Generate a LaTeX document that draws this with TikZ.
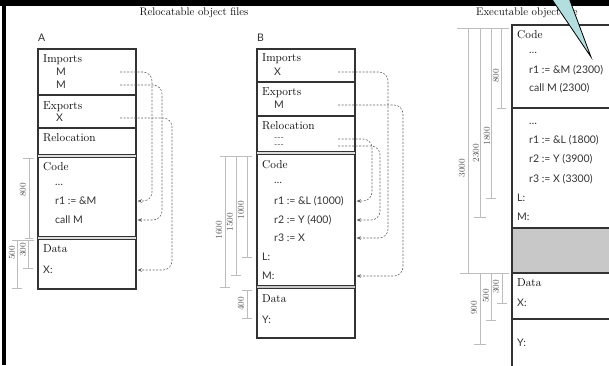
\documentclass[tikz,border=0pt]{standalone}
\usepackage{fontspec}
\newfontfamily\codefont{Lato}
\usetikzlibrary{arrows.meta,calc}
\definecolor{boxc}{HTML}{333333}
\definecolor{dimc}{HTML}{BDBDBD}
\definecolor{diml}{HTML}{555555}
\definecolor{connc}{HTML}{666666}
\definecolor{calloutc}{HTML}{B2DEDF}
\definecolor{grayfill}{HTML}{C8C8C8}
\tikzset{
  sect/.style={font=\fontsize{11.5}{13}\selectfont, anchor=west, inner sep=0pt, text height=7pt, text depth=0pt, text=black},
  code/.style={font=\codefont\fontsize{10.5}{12}\selectfont, anchor=west, inner sep=0pt, text height=7pt, text depth=0pt, text=black!80},
  relmark/.style={font=\codefont\fontsize{8.5}{9}\selectfont, anchor=west, inner sep=0pt, text height=3.5pt, text depth=0pt, text=black!70},
  title/.style={font=\fontsize{11}{13}\selectfont, inner sep=0pt, text=black},
  boxline/.style={draw=boxc, line width=1.2pt},
  thinbox/.style={draw=boxc, line width=0.9pt},
  dimline/.style={draw=dimc, line width=0.8pt},
  dimlabel/.style={font=\fontsize{9}{10}\selectfont, text=diml, rotate=90, inner sep=0pt},
  conn/.style={draw=connc, line width=0.6pt, dash pattern=on 2pt off 1.5pt, rounded corners=9pt, -{Stealth[length=4.5pt,width=3.6pt]}},
}
\begin{document}
\begin{tikzpicture}[x=1pt,y=-1pt]
\useasboundingbox (0,0) rectangle (609,365);
\fill[white] (0,0) rectangle (609,365);

% titles
\node[title] (t1) at (194,13) {Relocatable object files};
\node[title, anchor=west] (t2) at (476,13) {Executable object file};

% ---------------- Box A ----------------
\node[code, anchor=west] (labA) at (38,38) {A};
\draw[boxline] (38,49) rectangle (136,289);
\draw[boxline] (38,95) -- (136,95);
\draw[boxline] (38,128) -- (136,128);
\fill[grayfill!60] (38,154.5) rectangle (136,157.5);
\draw[thinbox] (38,154.5) -- (136,154.5) (38,157.5) -- (136,157.5);
\fill[grayfill!60] (38,236.5) rectangle (136,239.5);
\draw[thinbox] (38,236.5) -- (136,236.5) (38,239.5) -- (136,239.5);

\node[sect] (AImp) at (43,59) {Imports};
\node[code] (AimpM1) at (56,72) {M};
\node[code] (AimpM2) at (56,85) {M};
\node[sect] (AExp) at (43,106) {Exports};
\node[code] (AexpX) at (56,118) {X};
\node[sect] (ARel) at (43,138) {Relocation};
\node[sect] (ACode) at (43,167) {Code};
\node[code] (Adots) at (55,181.5) {\ldots};
\node[code] (Ar1) at (55,201) {r1 := \&M};
\node[code] (Acall) at (55,220) {call M};
\node[sect] (AData) at (43,249) {Data};
\node[code] (AdataX) at (43,270) {X:};

% dims A
\draw[dimline] (23,158) -- (34,158);
\draw[dimline] (29,158) -- (29,238) (25,238) -- (33,238);
\node[dimlabel] (dA800) at (23,190) {800};
\draw[dimline] (12,240) -- (34,240);
\draw[dimline] (28,240) -- (28,268) (23,268) -- (33,268);
\draw[dimline] (17,240) -- (17,288) (12,288) -- (22,288);
\node[dimlabel] (dA300) at (23,250) {300};
\node[dimlabel] (dA500) at (12,253) {500};

% connectors A
\coordinate (Aout) at (120,0);
\coordinate (Av1) at (152,0);
\coordinate (Av2) at (162,0);
\coordinate (Av3) at (172,0);
\coordinate (Ain) at (137.5,0);
\draw[conn] (AimpM1 -| Aout) -- (AimpM1 -| Av1) -- (Ar1 -| Av1) -- (Ar1 -| Ain);
\draw[conn] (AimpM2 -| Aout) -- (AimpM2 -| Av2) -- (Acall -| Av2) -- (Acall -| Ain);
\draw[conn] (AexpX -| Aout) -- (AexpX -| Av3) -- (AdataX -| Av3) -- (AdataX -| Ain);

% ---------------- Box B ----------------
\node[code, anchor=west] (labB) at (257,38) {B};
\draw[boxline] (257,49) rectangle (355,338);
\draw[boxline] (257,82) -- (355,82);
\draw[boxline] (257,116) -- (355,116);
\fill[grayfill!60] (257,151.5) rectangle (355,154.5);
\draw[thinbox] (257,151.5) -- (355,151.5) (257,154.5) -- (355,154.5);
\fill[grayfill] (257,285.5) rectangle (355,288.5);
\draw[thinbox] (257,285.5) -- (355,285.5) (257,288.5) -- (355,288.5);

\node[sect] (BImp) at (262,58) {Imports};
\node[code] (BimpX) at (274,72) {X};
\node[sect] (BExp) at (262,92) {Exports};
\node[code] (BexpM) at (274,105) {M};
\node[sect] (BRel) at (262,126) {Relocation};
\node[relmark] (Brel1) at (274,139) {-{}-{}-};
\node[relmark] (Brel2) at (274,146) {-{}-{}-};
\node[sect] (BCode) at (262,165) {Code};
\node[code] (Bdots) at (274,180) {\ldots};
\node[code] (Br1) at (274,201) {r1 := \&L (1000)};
\node[code] (Br2) at (274,220) {r2 := Y (400)};
\node[code] (Br3) at (274,238) {r3 := X};
\node[code] (BL) at (262,257) {L:};
\node[code] (BM) at (262,276) {M:};
\node[sect] (BData) at (262,299) {Data};
\node[code] (BY) at (262,320) {Y:};

% dims B
\draw[dimline] (220,156) -- (252,156);
\draw[dimline] (247,156) -- (247,257) (242,257) -- (252,257);
\draw[dimline] (236,156) -- (236,275) (231,275) -- (241,275);
\draw[dimline] (225,156) -- (225,287) (220,287) -- (230,287);
\node[dimlabel] (dB1000) at (241,210) {1000};
\node[dimlabel] (dB1500) at (230,222) {1500};
\node[dimlabel] (dB1600) at (219,230) {1600};
\draw[dimline] (242,290) -- (252,290) (247,290) -- (247,318) (242,318) -- (252,318);
\node[dimlabel] (dB400) at (241,304) {400};

% connectors B
\coordinate (Bout) at (338,0);
\coordinate (Bv1) at (372,0);
\coordinate (Bv2) at (380,0);
\coordinate (Bv3) at (388,0);
\coordinate (Bv4) at (403,0);
\coordinate (Bin) at (356.5,0);
\draw[conn] (Brel1 -| Bout) -- (Brel1 -| Bv1) -- (Br1 -| Bv1) -- (Br1 -| Bin);
\draw[conn] (Brel2 -| Bout) -- (Brel2 -| Bv2) -- (Br2 -| Bv2) -- (Br2 -| Bin);
\draw[conn] (BimpX -| Bout) -- (BimpX -| Bv3) -- (Br3 -| Bv3) -- (Br3 -| Bin);
\draw[conn] (BexpM -| Bout) -- (BexpM -| Bv4) -- (BM -| Bv4) -- (BM -| Bin);

% ---------------- Executable ----------------
\fill[grayfill] (512,228) rectangle (615,273);
\draw[boxline] (615,25) -- (512,25) -- (512,370);
\draw[boxline] (512,108) -- (615,108);
\draw[draw=boxc, line width=2pt] (512,228) -- (615,228);
\draw[draw=boxc, line width=2pt] (512,273) -- (615,273);
\draw[draw=boxc, line width=1.5pt] (512,319) -- (615,319);

\node[sect] (ECode) at (517,35) {Code};
\node[code] (Edots1) at (529,49.5) {\ldots};
\node[code] (Er1a) at (529,70) {r1 := \&M (2300)};
\node[code] (Ecall) at (529,88) {call M (2300)};
\node[code] (Edots2) at (529,121) {\ldots};
\node[code] (Er1b) at (529,140) {r1 := \&L (1800)};
\node[code] (Er2) at (529,159) {r2 := Y (3900)};
\node[code] (Er3) at (529,179) {r3 := X (3300)};
\node[code] (EL) at (517,198) {L:};
\node[code] (EM) at (517,217) {M:};
\node[sect] (EData) at (517,283) {Data};
\node[code] (EX) at (517,303) {X:};
\node[code] (EY) at (517,343) {Y:};

% dims exec
\draw[dimline] (457,28) -- (509,28);
\draw[dimline] (501,28) -- (501,108) (497,108) -- (506,108);
\draw[dimline] (491,28) -- (491,198) (486,198) -- (496,198);
\draw[dimline] (480,28) -- (480,217) (474,217) -- (486,217);
\draw[dimline] (468,28) -- (468,273);
\draw[dimline] (460,273) -- (509,273);
\draw[dimline] (502,273) -- (502,303) (497,303) -- (507,303);
\draw[dimline] (491,273) -- (491,320) (486,320) -- (496,320);
\draw[dimline] (480,273) -- (480,344) (474,344) -- (486,344);
\node[dimlabel] (dE800) at (496,76) {800};
\node[dimlabel] (dE1800) at (487,136) {1800};
\node[dimlabel] (dE2300) at (476,153) {2300};
\node[dimlabel] (dE3000) at (462,168) {3000};
\node[dimlabel] (dE300) at (496,287) {300};
\node[dimlabel] (dE500) at (486,296) {500};
\node[dimlabel] (dE900) at (474,308) {900};

% frame
\fill[black] (0,0) rectangle (609,6);
\fill[black] (1.5,0) rectangle (5.5,365);

% callout pointer
\filldraw[fill=calloutc, draw=black, line width=0.8pt] (551,-2) -- (591,57) -- (569,-2);
\end{tikzpicture}
\end{document}
